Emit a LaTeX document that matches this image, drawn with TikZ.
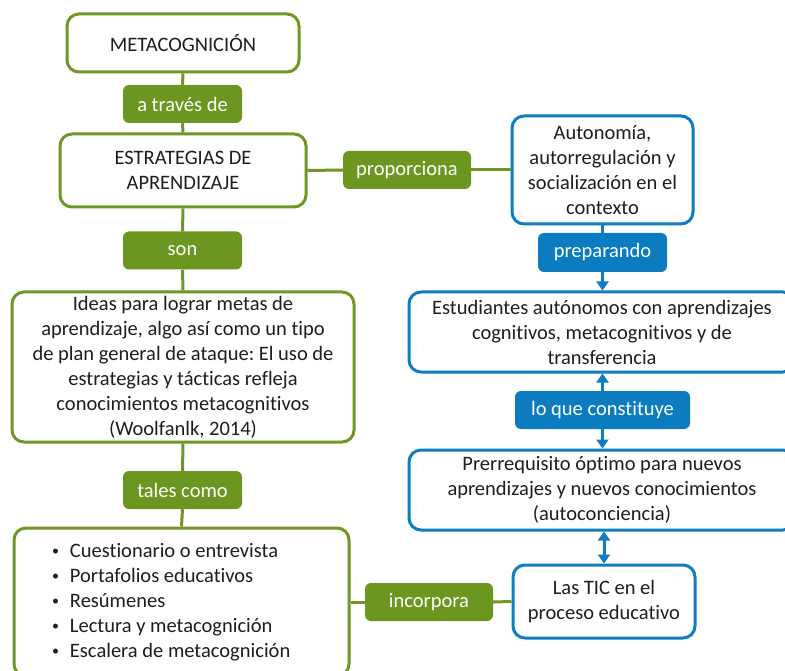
\documentclass[tikz,border=0pt]{standalone}
\usepackage{fontspec}
\setmainfont{Carlito}[Ligatures=NoCommon]
\usetikzlibrary{arrows.meta}
\definecolor{gline}{RGB}{112,150,38}
\definecolor{gfill}{RGB}{107,150,31}
\definecolor{bline}{RGB}{16,124,193}
\definecolor{bfill}{RGB}{12,124,192}
\definecolor{txt}{RGB}{30,30,30}
\newcommand{\myfont}{\fontsize{20.5}{25}\selectfont\frenchspacing}
\newcommand{\blt}{\raisebox{1.5pt}{\fontsize{14}{25}\selectfont\textbullet}\hspace{11pt}}
\tikzset{
  base/.style={rounded corners=12pt, line width=3pt, fill=white, text=txt, align=center,
    font=\myfont, inner sep=0pt},
  gbox/.style={base, draw=gline},
  bbox/.style={base, draw=bline},
  glab/.style={rounded corners=6pt, fill=gfill, text=white, font=\myfont,
    minimum height=38pt, inner sep=0pt},
  blab/.style={rounded corners=6pt, fill=bfill, text=white, font=\myfont,
    minimum height=38pt, inner sep=0pt},
  gcon/.style={draw=gline, line width=3pt},
  bcon/.style={draw=bline, line width=3pt},
  barrow/.style={bcon, -{Triangle[width=12pt,length=9pt]}},
  bdarrow/.style={bcon, {Triangle[width=12pt,length=9pt]}-{Triangle[width=12pt,length=9pt]}}
}
\begin{document}
\begin{tikzpicture}[x=1pt,y=-1pt]
\useasboundingbox (0,0) rectangle (785,671);
\clip (0,0) rectangle (785,671);
\fill[white] (0,0) rectangle (785,671);
% left column
\node[gbox, minimum width=232pt, minimum height=58pt] (meta) at (183,43) {METACOGNICIÓN};
\node[glab, minimum width=119pt] (atraves) at (182.5,104) {a través de};
\node[gbox, minimum width=246pt, minimum height=73pt] (estr) at (183,170.5) {ESTRATEGIAS DE\\APRENDIZAJE};
\node[glab, minimum width=119pt] (son) at (182.5,250.5) {son};
\node[gbox, minimum width=342pt, minimum height=150pt] (ideas) at (183,367)
  {Ideas para lograr metas de\\aprendizaje, algo así como un tipo\\de plan general de ataque: El uso de\\estrategias y tácticas refleja\\conocimientos metacognitivos\\(Woolfanlk, 2014)};
\node[glab, minimum width=119pt] (tales) at (182.5,490) {tales como};
\node[gbox, text width=259pt, align=flush left, inner xsep=38pt, minimum height=148pt] (lista) at (181.5,602)
  {\blt Cuestionario o entrevista\\
   \blt Portafolios educativos\\
   \blt Resúmenes\\
   \blt Lectura y metacognición\\
   \blt Escalera de metacognición};
% middle labels
\node[glab, minimum width=128pt] (prop) at (407,170) {proporciona};
\node[glab, minimum width=128pt] (inc) at (429,602) {incorpora};
% right column
\node[bbox, minimum width=181pt, minimum height=108pt] (auto) at (602.5,170)
  {Autonomía,\\autorregulación y\\socialización en el\\contexto};
\node[blab, minimum width=129pt, minimum height=39pt] (prep) at (602.5,252.5) {preparando};
\node[bbox, minimum width=386pt, minimum height=80pt] (estud) at (602,332)
  {Estudiantes autónomos con aprendizajes\\cognitivos, metacognitivos y de\\transferencia};
\node[blab, minimum width=175pt] (loque) at (602.5,410) {lo que constituye};
\node[bbox, minimum width=386pt, minimum height=80pt] (prer) at (602,490)
  {Prerrequisito óptimo para nuevos\\aprendizajes y nuevos conocimientos\\(autoconciencia)};
\node[bbox, minimum width=182pt, minimum height=73pt] (tic) at (604,601.5)
  {Las TIC en el\\proceso educativo};
% green connectors
\draw[gcon] (meta.south) -- (atraves.north);
\draw[gcon] (atraves.south) -- (estr.north);
\draw[gcon] (estr.south) -- (son.north);
\draw[gcon] (son.south) -- (ideas.north);
\draw[gcon] (ideas.south) -- (tales.north);
\draw[gcon] (tales.south) -- (lista.north);
\draw[gcon] (estr.east) -- (prop.west);
\draw[gcon] (prop.east) -- (auto.west);
\draw[gcon] (lista.east) -- (inc.west);
\draw[gcon] (inc.east) -- (tic.west);
% blue connectors
\draw[bcon] (auto.south) -- (prep.north);
\draw[barrow] (prep.south) -- (prep.south |- estud.north);
\draw[barrow] (loque.north) -- (loque.north |- estud.south);
\draw[barrow] (loque.south) -- (loque.south |- prer.north);
\draw[bdarrow] (prer.south -| tic.north) -- (tic.north);
\end{tikzpicture}
\end{document}
